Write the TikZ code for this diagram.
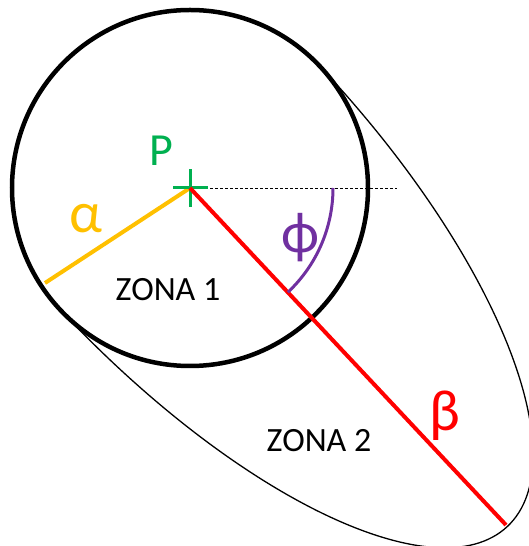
\documentclass[tikz,border=0pt]{standalone}
\usepackage{fontspec}
\setmainfont{Carlito}
\definecolor{zonaGreen}{RGB}{0, 176, 80}
\definecolor{zonaYellow}{RGB}{255, 192, 0}
\definecolor{zonaRed}{RGB}{255, 0, 0}
\definecolor{zonaPurple}{RGB}{112, 48, 160}

\begin{document}
\begin{tikzpicture}[
    x=1pt, y=1pt,
    greek/.style={inner sep=0pt, font=\fontsize{58}{62}\selectfont},
    zona/.style={inner sep=0pt, font=\fontsize{34}{38}\selectfont},
    rim/.style={line width=4.5pt},
    ellipseline/.style={line width=1.3pt},
    radiusline/.style={line width=4pt}
  ]
    \useasboundingbox (0,0) rectangle (528,546);

    % Points
    \coordinate (P) at (190,358);
    \coordinate (A) at (45,263);
    \coordinate (B) at (506,21);
    \coordinate (D) at (397,358);

    % Zone 2: half ellipse along beta
    \begin{scope}[shift={(P)}, rotate=-46.84]
      \draw[ellipseline] (0,178) arc[start angle=90, end angle=-90,
        x radius=464, y radius=178];
    \end{scope}

    % Zone 1: circle
    \draw[rim] (P) circle[radius=178];

    % Reference direction
    \draw[line width=0.8pt, dash pattern=on 3pt off 2pt] (P) -- (D);

    % Radii
    \draw[radiusline, zonaYellow] (P) -- (A);
    \draw[line width=3pt, zonaGreen] ([xshift=-17pt]P) -- ([xshift=18pt]P);
    \draw[line width=3pt, zonaGreen] ([yshift=-19pt]P) -- ([yshift=19pt]P);
    \draw[radiusline, zonaRed] (P) -- (B);

    % Angle
    \draw[line width=3pt, zonaPurple] (P) ++(143,0)
      arc[start angle=0, end angle=-46.8, radius=143];

    % Labels
    \node[greek, zonaGreen, font=\fontsize{46}{50}\selectfont] (lblP) at (161,395) {P};
    \node[greek, zonaYellow] (lblA) at (86,327) {α};
    \node[greek, zonaPurple] (lblPhi) at (300,308) {ϕ};
    \node[greek, zonaRed] (lblB) at (445,130) {β};
    \node[zona] (zona1) at (168,256) {ZONA 1};
    \node[zona] (zona2) at (319,105) {ZONA 2};
\end{tikzpicture}
\end{document}
